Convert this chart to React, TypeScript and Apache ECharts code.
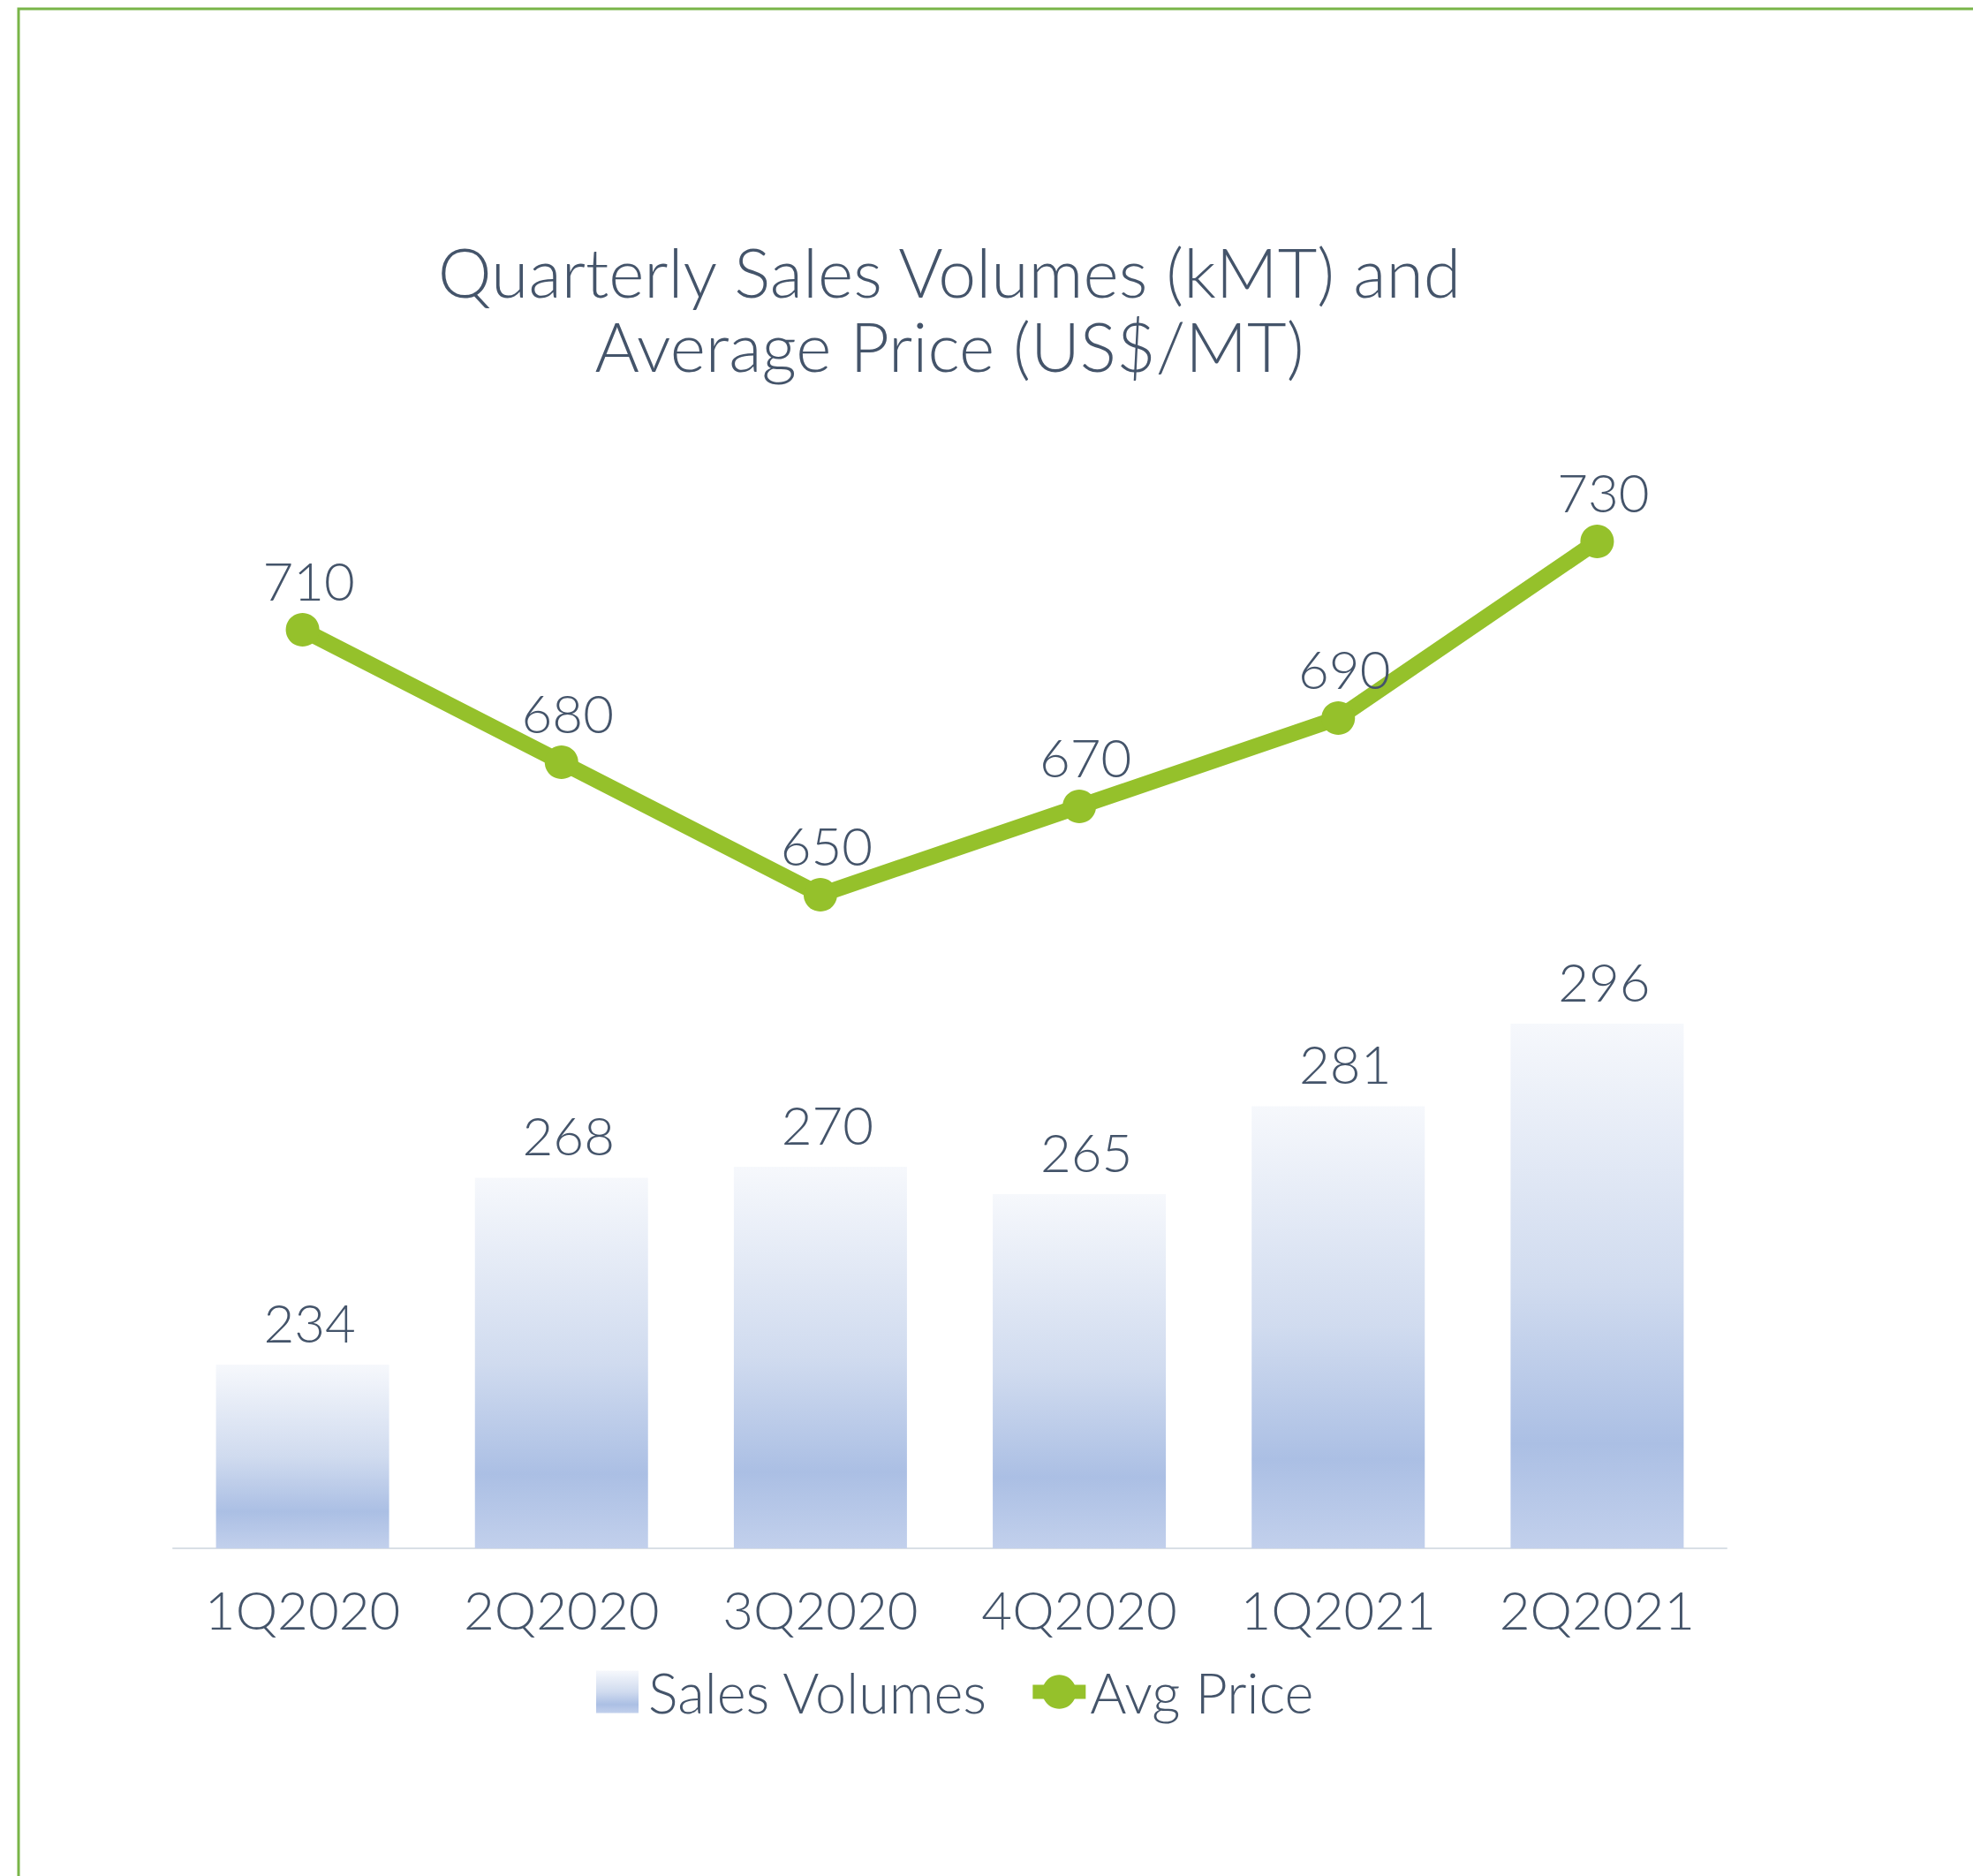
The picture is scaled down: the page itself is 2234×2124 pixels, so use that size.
import React, { useEffect, useRef } from "react";
import * as echarts from "echarts";

const categories = ["1Q2020", "2Q2020", "3Q2020", "4Q2020", "1Q2021", "2Q2021"];
const salesVolumes = [234, 268, 270, 265, 281, 296];
const avgPrice = [710, 680, 650, 670, 690, 730];
const titleLines = ["Quarterly Sales Volumes (kMT) and", "Average Price (US$/MT)"];
const seriesNames = ["Sales Volumes", "Avg Price"];

export default function App() {
  const ref = useRef<HTMLDivElement>(null);

  useEffect(() => {
    const chart = echarts.init(ref.current!, null, { renderer: "svg" });
    const textColor = "#44546a";
    const green = "#95c12b";
    const font = "Lato";
    const barGradient = new echarts.graphic.LinearGradient(0, 0, 0, 1, [
      { offset: 0, color: "#f6f8fc" },
      { offset: 0.5, color: "#d0dbef" },
      { offset: 0.8, color: "#abbfe4" },
      { offset: 1, color: "#c2d0ec" },
    ]);
    const titleStyle = {
      fontFamily: font,
      fontSize: 77,
      fontWeight: 300,
      lineHeight: 77,
      color: textColor,
    };

    chart.setOption({
      animation: false,
      backgroundColor: "#ffffff",
      textStyle: { fontFamily: font },
      title: [
        {
          text: titleLines[0],
          left: 1075,
          textAlign: "center",
          top: 268,
          padding: 0,
          textStyle: titleStyle,
        },
        {
          text: titleLines[1],
          left: 1075,
          textAlign: "center",
          top: 352,
          padding: 0,
          textStyle: titleStyle,
        },
      ],
      legend: {
        left: 675,
        top: 1884,
        itemWidth: 60,
        itemHeight: 48,
        itemGap: 42,
        padding: 0,
        textStyle: { fontFamily: font, fontSize: 63, fontWeight: 300, color: textColor },
        data: [
          { name: seriesNames[0], icon: "path://M0 0H10V10H0Z", symbolKeepAspect: true },
          { name: seriesNames[1], lineStyle: { width: 16, color: green } },
        ],
      },
      graphic: [
        {
          type: "rect",
          silent: true,
          z: -10,
          shape: { x: 21, y: 10, width: 2400, height: 2400 },
          style: { fill: "none", stroke: "#79b548", lineWidth: 3 },
        },
      ],
      grid: { left: 196, right: 279, top: 262, bottom: 371, containLabel: false },
      xAxis: {
        type: "category",
        data: categories,
        axisLine: { show: true, lineStyle: { color: "#d9dfe6", width: 2 } },
        axisTick: { show: false },
        splitLine: { show: false },
        axisLabel: {
          margin: 39,
          fontFamily: font,
          fontSize: 60,
          fontWeight: 300,
          lineHeight: 60,
          color: textColor,
        },
      },
      yAxis: [
        { type: "value", min: 200.6, max: 440.1, show: false, splitLine: { show: false } },
        { type: "value", min: 502, max: 800.2, show: false, splitLine: { show: false } },
      ],
      series: [
        {
          name: seriesNames[0],
          type: "bar",
          yAxisIndex: 0,
          data: salesVolumes,
          barWidth: 196,
          itemStyle: { color: barGradient },
          label: {
            show: true,
            position: "top",
            distance: 18,
            offset: [8, 0],
            fontFamily: font,
            fontSize: 60,
            fontWeight: 300,
            lineHeight: 60,
            color: textColor,
          },
          z: 2,
        },
        {
          name: seriesNames[1],
          type: "line",
          yAxisIndex: 1,
          data: avgPrice,
          symbol: "circle",
          symbolSize: 38,
          lineStyle: { color: green, width: 18 },
          itemStyle: { color: green },
          label: {
            show: true,
            position: "top",
            distance: 7,
            offset: [7, 0],
            fontFamily: font,
            fontSize: 60,
            fontWeight: 300,
            lineHeight: 60,
            color: textColor,
          },
          z: 5,
        },
      ],
    });

    return () => chart.dispose();
  }, []);

  return (
    <div
      ref={ref}
      style={{ position: "fixed", left: 0, top: 0, width: 2234, height: 2124 }}
    />
  );
}
